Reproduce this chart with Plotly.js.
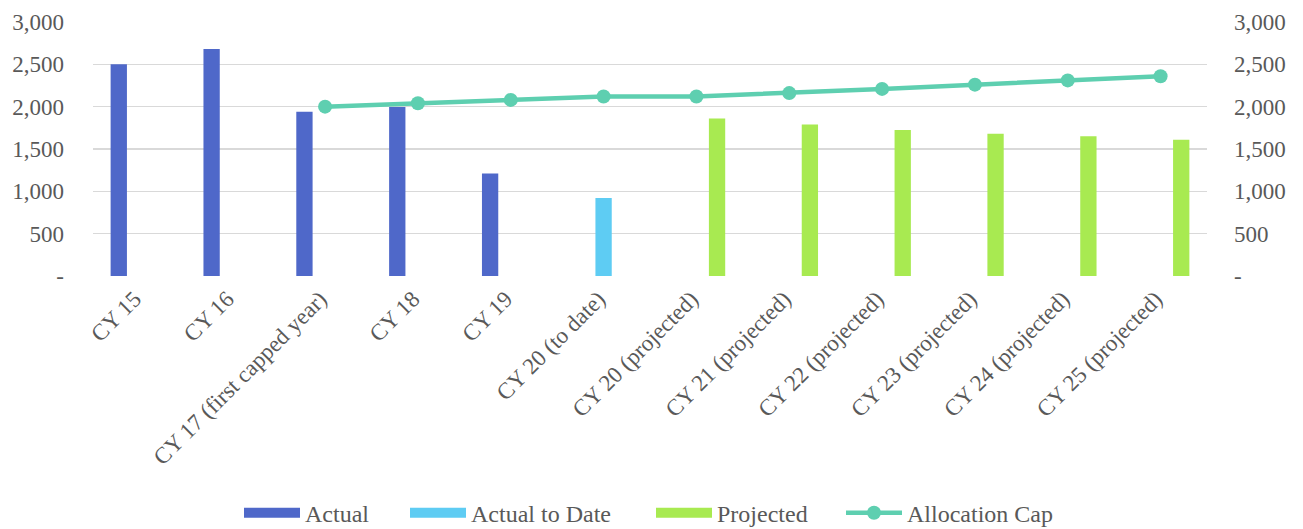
<!DOCTYPE html>
<html>
<head>
<meta charset="utf-8">
<script src="https://cdn.plot.ly/plotly-3.0.1.min.js"></script>
<style>html,body{margin:0;padding:0;background:#fff;}#chart{width:1303px;height:529px;}</style>
</head>
<body>
<div id="chart"></div>
<script>
const categories = ["CY 15", "CY 16", "CY 17 (first capped year)", "CY 18", "CY 19", "CY 20 (to date)",
  "CY 20 (projected)", "CY 21 (projected)", "CY 22 (projected)", "CY 23 (projected)", "CY 24 (projected)", "CY 25 (projected)"];
const actual = [2500, 2680, 1940, 1995, 1210, null, null, null, null, null, null, null];
const actualToDate = [null, null, null, null, null, 920, null, null, null, null, null, null];
const projected = [null, null, null, null, null, null, 1860, 1790, 1725, 1680, 1650, 1610];
const allocationCap = [null, null, 2000, 2040, 2080, 2120, 2120, 2160, 2210, 2260, 2310, 2360];
const yTickVals = [0, 500, 1000, 1500, 2000, 2500, 3000];
const yTickText = ["-", "500", "1,000", "1,500", "2,000", "2,500", "3,000"];

const FONT = "'Liberation Serif', 'Times New Roman', serif";
const TXT = "#595959";
const C_ACT = "#4F68C9", C_ATD = "#5ECCF3", C_PRJ = "#A8EA51", C_CAP = "#5ECFB0";

// legend-only swatch traces (wide rectangles like the original legend)
function swatch(name, color, group, legendId) {
  return {type: "scatter", mode: "lines", name: name, legendgroup: group, legend: legendId, x: [null], y: [null],
          line: {color: color, width: 14}, hoverinfo: "skip"};
}

const traces = [
  {type: "bar", name: "Actual", legendgroup: "a", showlegend: false, x: categories, y: actual, marker: {color: C_ACT}},
  {type: "bar", name: "Actual to Date", legendgroup: "b", showlegend: false, x: categories, y: actualToDate, marker: {color: C_ATD}},
  {type: "bar", name: "Projected", legendgroup: "c", showlegend: false, x: categories, y: projected, marker: {color: C_PRJ}},
  swatch("Actual", C_ACT, "a", "legend"),
  swatch("Actual to Date", C_ATD, "b", "legend2"),
  swatch("Projected", C_PRJ, "c", "legend3"),
  {type: "scatter", mode: "lines+markers", name: "Allocation Cap", legend: "legend4", x: categories, y: allocationCap,
   yaxis: "y2", line: {color: C_CAP, width: 4.5}, marker: {color: C_CAP, size: 14}}
];

function legendAt(px) {
  return {orientation: "h", x: px / 1303, xref: "container", xanchor: "left",
          y: 0.03, yref: "container", yanchor: "middle",
          font: {family: FONT, size: 24, color: TXT}, itemwidth: 56, bgcolor: "rgba(0,0,0,0)"};
}

const layout = {
  width: 1303, height: 529,
  margin: {l: 93, r: 96, t: 22, b: 253},
  paper_bgcolor: "#fff", plot_bgcolor: "#fff",
  font: {family: FONT, color: TXT, size: 22},
  barmode: "group", bargap: 0.333, bargroupgap: 0.21,
  showlegend: true,
  legend: legendAt(239),
  legend2: legendAt(405),
  legend3: legendAt(651),
  legend4: legendAt(841),
  xaxis: {type: "category", range: [-0.5, 11.5], tickangle: -45, tickfont: {family: FONT, size: 23, color: TXT},
          showgrid: false, zeroline: false, showline: false, ticks: "", automargin: false,
          ticklabelshift: -5, ticklabelstandoff: 4},
  yaxis: {range: [0, 3000], tickvals: yTickVals, ticktext: yTickText, showgrid: true,
          gridcolor: "#D9D9D9", gridwidth: 1.5, zeroline: false, showline: false, ticks: "",
          tickfont: {family: FONT, size: 23, color: TXT}, ticklabelstandoff: 28, automargin: false},
  yaxis2: {range: [0, 3000], overlaying: "y", side: "right", tickvals: yTickVals, ticktext: yTickText,
           showgrid: false, zeroline: false, showline: false, ticks: "", automargin: false,
           tickfont: {family: FONT, size: 23, color: TXT}, ticklabelstandoff: 26}
};

Plotly.newPlot("chart", traces, layout, {displayModeBar: false, staticPlot: true});
</script>
</body>
</html>
